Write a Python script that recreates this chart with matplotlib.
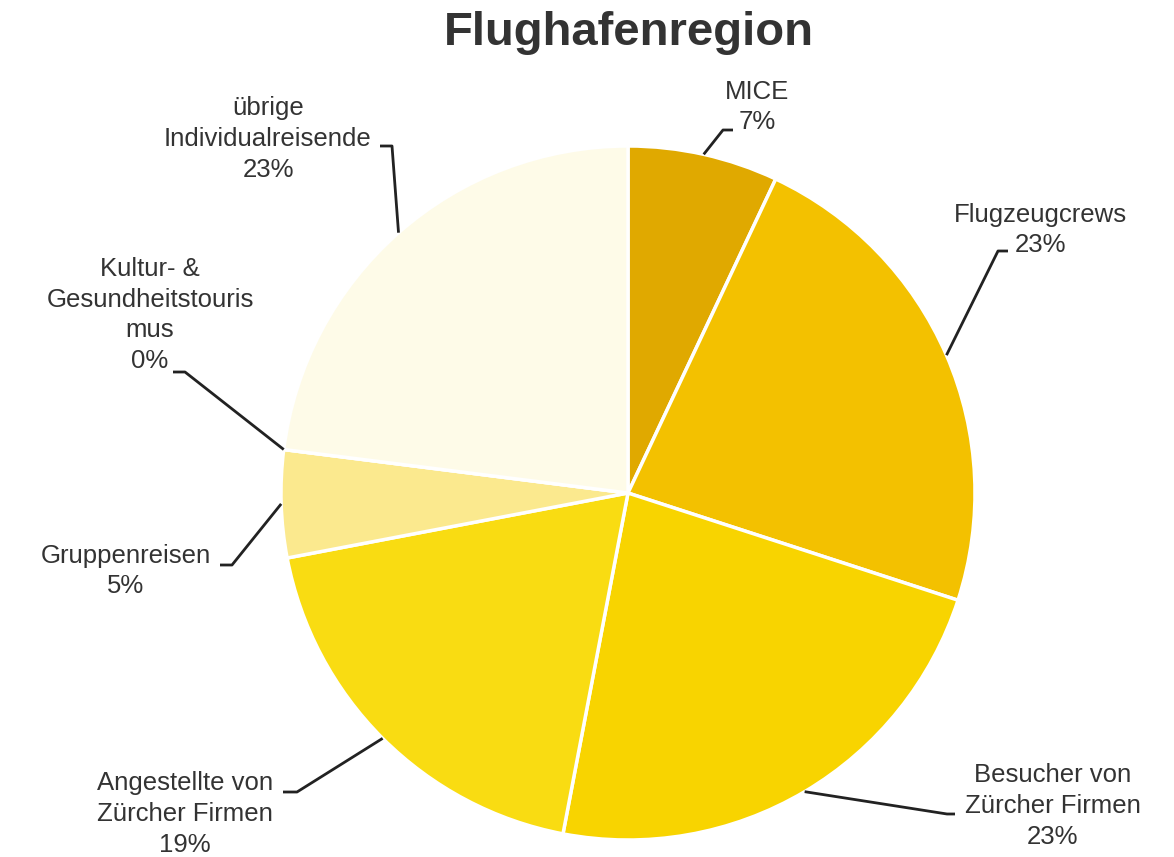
import numpy as np
import matplotlib
matplotlib.use("Agg")
import matplotlib.pyplot as plt

W, H = 1174, 857

# ---- data ----
categories = ["MICE", "Flugzeugcrews", "Besucher von\nZürcher Firmen",
              "Angestellte von\nZürcher Firmen", "Gruppenreisen",
              "Kultur- &\nGesundheitstouris\nmus", "übrige\nIndividualreisende"]
values = [7, 23, 23, 19, 5, 0, 23]
title = "Flughafenregion"

colors = ["#e0a900", "#f3c100", "#f8d400", "#f9dc12", "#fbe98e", "#fbe98e", "#fefbe8"]

# label layout (pixel coords, y down): text centre, elbow point, line end at text
text_pos = [(757, 107), (1040, 230), (1053, 806), (185, 814), (126, 571), (150, 315), (268, 139)]
elbows = [[(723, 130), (733, 130)],
          [(998, 251), (1008, 251)],
          [(947, 814), (955, 814)],
          [(297, 792), (283, 792)],
          [(232, 565), (220, 565)],
          [(185, 372), (173, 372)],
          [(392, 146), (380, 146)]]

plt.rcParams['font.family'] = ['Liberation Sans', 'DejaVu Sans']

fig = plt.figure(figsize=(W / 100, H / 100), dpi=100)
ax = fig.add_axes([0, 0, 1, 1])

cx, cy, R = 628, 493, 347
center = (cx, H - cy)
wedges, _ = ax.pie(values, startangle=90, counterclock=False, colors=colors,
                   center=center, radius=R,
                   wedgeprops=dict(edgecolor="white", linewidth=2.5))

ax.set_xlim(0, W)
ax.set_ylim(0, H)
ax.set_aspect("equal")
ax.axis("off")

for w, lab, val, tp, el in zip(wedges, categories, values, text_pos, elbows):
    mid = np.deg2rad((w.theta1 + w.theta2) / 2)
    ex = center[0] + R * np.cos(mid)
    ey = center[1] + R * np.sin(mid)
    xs = [ex] + [p[0] for p in el]
    ys = [ey] + [H - p[1] for p in el]
    ax.plot(xs, ys, color="#222222", lw=2, solid_capstyle="butt", zorder=5)
    ax.text(tp[0], H - tp[1], f"{lab}\n{val}%", ha="center", va="center",
            fontsize=18.5, color="#333333", linespacing=1.35)

ax.text(629, H - 33, title, ha="center", va="center", fontsize=34,
        fontweight="bold", color="#333333")

fig.savefig("out.png", dpi=100)
